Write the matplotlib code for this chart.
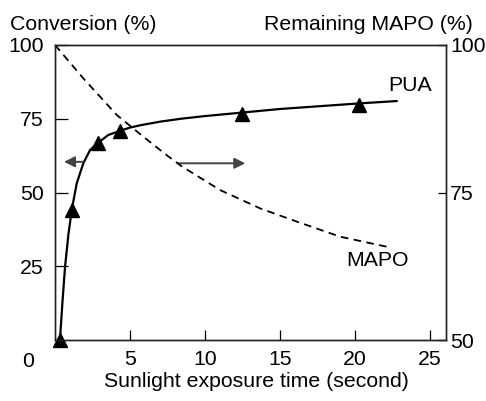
import matplotlib
matplotlib.use("Agg")
import matplotlib.pyplot as plt

plt.rcParams['font.family'] = ['Liberation Sans', 'DejaVu Sans']

# PUA conversion curve (left axis, %)
pua_line_x = [0.33, 0.5, 0.67, 0.9, 1.12, 1.45, 1.89, 2.34, 2.89, 3.56, 4.34, 5.0, 5.7, 7.0, 8.4, 10.0, 12.5, 15.0, 17.5, 20.3, 22.8]
pua_line_y = [0.0, 13.0, 24.8, 36.0, 44.1, 53.1, 59.9, 64.4, 66.9, 69.5, 70.9, 72.0, 72.8, 74.0, 75.0, 75.9, 77.1, 78.3, 79.2, 80.2, 81.0]
pua_pts_x = [0.33, 1.12, 2.89, 4.34, 12.5, 20.3]
pua_pts_y = [0.0, 44.1, 66.9, 70.9, 76.7, 79.6]

# Remaining MAPO curve (right axis, %)
mapo_x = [0.0, 1.89, 4.12, 5.9, 7.47, 8.45, 11.03, 13.7, 16.16, 19.05, 22.17]
mapo_y = [100.0, 94.35, 88.15, 84.45, 81.3, 79.45, 75.4, 72.3, 70.05, 67.5, 65.8]

x_ticks = [5, 10, 15, 20, 25]
left_ticks = [25, 50, 75, 100]
right_ticks = [50, 75, 100]

FS = 15.3
fig = plt.figure(figsize=(4.86, 4.01), dpi=100)
ax = fig.add_axes([55/486, 61/401, 391/486, 295/401])
ax2 = ax.twinx()

ax.set_xlim(0, 26.1)
ax.set_ylim(0, 100)
ax2.set_ylim(50, 100)

ax.plot(pua_line_x, pua_line_y, color='black', lw=1.6, zorder=3)
ax.plot(pua_pts_x, pua_pts_y, linestyle='none', marker='^', ms=9.5, color='black', zorder=4, clip_on=False)
ax2.plot(mapo_x, mapo_y, color='black', lw=1.3, dashes=(4.2, 3.0))

# direction arrows
arrow_left = ((1.9, 60.4), (0.6, 60.4))
arrow_right = ((8.25, 59.9), (12.7, 59.9))
for (x0, y0), (x1, y1) in (arrow_left, arrow_right):
    ax.annotate('', xy=(x1, y1), xytext=(x0, y0),
                arrowprops=dict(arrowstyle='-|>', color='#444444', lw=1.4,
                                mutation_scale=16, shrinkA=0, shrinkB=0))

ax.text(23.7, 86.4, 'PUA', fontsize=FS, ha='center', va='center')
ax.text(21.5, 27.0, 'MAPO', fontsize=FS, ha='center', va='center')

ax.set_xticks(x_ticks)
ax.set_xticklabels([str(t) for t in x_ticks])
ax.set_yticks(left_ticks)
ax.set_yticklabels([str(t) for t in left_ticks])
ax2.set_yticks(right_ticks)
ax2.set_yticklabels([str(t) for t in right_ticks])

ax.tick_params(axis='x', direction='in', length=7, width=0.9, pad=7, labelsize=FS)
ax.tick_params(axis='y', direction='in', length=9, width=0.9, pad=8, labelsize=FS)
ax2.tick_params(axis='y', direction='in', length=6, width=0.9, pad=3, labelsize=FS)

for a in (ax, ax2):
    for s in a.spines.values():
        s.set_linewidth(1.0)
        s.set_color('#222222')

fig.text(28/486, (401-367)/401, '0', fontsize=FS, ha='center', va='baseline')
fig.text(10/486, (401-30)/401, 'Conversion (%)', fontsize=FS, ha='left', va='baseline')
fig.text(473/486, (401-30)/401, 'Remaining MAPO (%)', fontsize=FS, ha='right', va='baseline')
fig.text(256.5/486, (401-387)/401, 'Sunlight exposure time (second)', fontsize=FS, ha='center', va='baseline')

fig.savefig('out.png', dpi=100)
